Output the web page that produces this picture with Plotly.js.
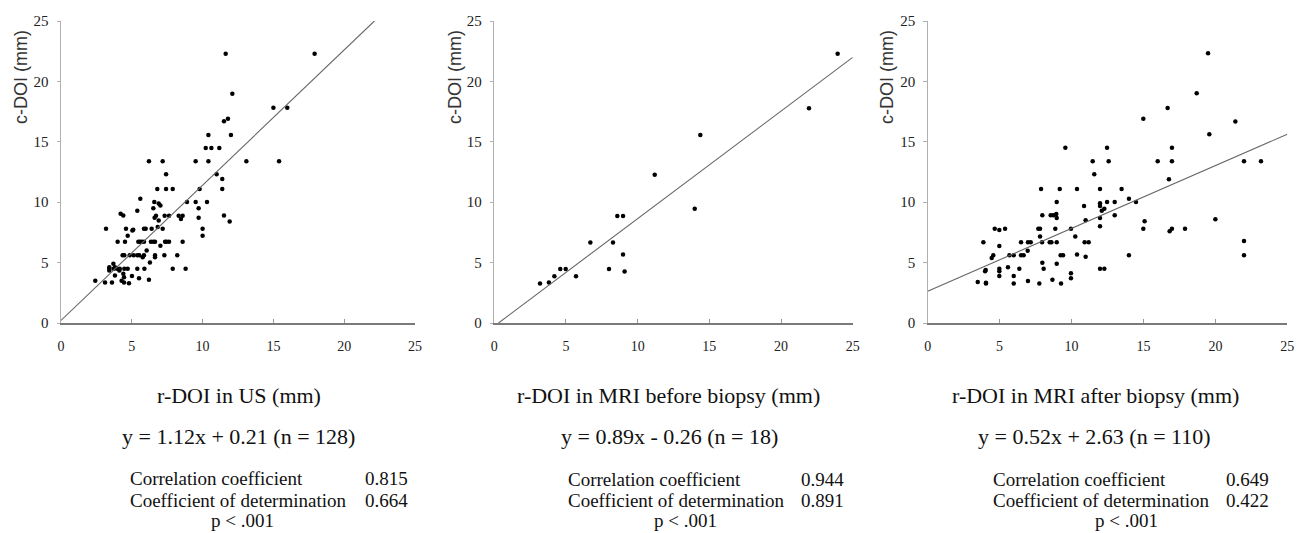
<!DOCTYPE html>
<html>
<head>
<meta charset="utf-8">
<script src="https://cdn.plot.ly/plotly-3.0.1.min.js"></script>
<style>html,body{margin:0;padding:0;background:#fff;}#chart{width:1297px;height:533px;}</style>
</head>
<body>
<div id="chart"></div>
<script>
// Panel 1: r-DOI in US
const usX = [2.42,3.18,3.11,3.41,3.41,3.6,3.70,3.72,3.81,3.96,4.0,4.12,4.15,4.21,4.28,4.4,4.35,4.47,4.47,4.4,4.45,4.45,4.52,4.59,4.71,4.71,4.8,4.85,5.01,5.04,5.1,5.13,5.39,5.39,5.39,5.51,5.53,5.46,5.58,5.6,5.70,5.77,5.86,5.86,5.86,5.89,5.98,6.05,6.21,6.21,6.28,6.35,6.40,6.52,6.52,6.59,6.61,6.64,6.64,6.64,6.71,6.8,6.83,6.9,6.9,7.02,7.02,7.18,7.18,7.30,7.32,7.35,7.42,7.42,7.46,7.63,7.63,7.89,7.89,8.21,8.31,8.47,8.59,8.59,8.80,8.9,9.51,9.51,9.72,9.72,9.79,10.0,10.0,10.22,10.31,10.41,10.41,10.62,10.99,11.18,11.39,11.39,11.51,11.51,11.63,11.79,11.91,12.0,12.1,13.09,15.0,15.4,15.98,17.91,3.41,3.81];
const usY = [3.5,7.8,3.35,4.62,4.34,3.35,4.9,4.5,3.93,4.5,6.72,4.34,4.5,9.04,3.5,8.9,5.61,5.61,4.5,4.07,3.79,3.35,6.72,7.8,4.5,7.22,3.29,5.61,3.9,7.66,7.72,5.61,9.29,4.5,5.61,3.71,5.61,6.72,6.72,10.29,6.72,5.45,5.61,6.72,7.8,4.5,7.8,6.0,3.57,13.38,5.0,6.72,7.8,9.49,6.72,10.01,8.71,5.61,5.45,6.72,8.88,11.09,7.94,8.49,9.9,9.73,6.39,13.38,7.8,5.61,8.88,6.72,12.31,11.09,6.72,8.88,6.72,11.09,4.5,5.61,8.88,8.6,8.88,6.72,4.5,10.01,13.38,10.01,9.49,8.71,11.09,7.8,7.22,14.49,10.01,15.57,13.38,14.49,12.31,14.49,11.92,11.09,8.9,16.7,22.29,16.9,8.41,15.57,18.97,13.38,17.81,13.38,17.81,22.29,4.5,4.62];

// Panel 2: r-DOI in MRI before biopsy
const preX = [3.19,3.81,4.19,4.60,4.98,5.70,6.70,8.0,8.28,8.58,8.98,8.98,9.09,11.19,13.98,14.37,21.95,23.95];
const preY = [3.27,3.36,3.88,4.48,4.48,3.88,6.66,4.48,6.66,8.86,8.86,5.67,4.26,12.27,9.46,15.57,17.77,22.28];

// Panel 3: r-DOI in MRI after biopsy
const postX = [3.48,3.87,3.99,4.03,4.05,4.05,4.45,4.56,4.66,4.98,4.98,4.98,4.98,4.98,5.38,5.58,5.68,5.98,5.98,5.98,6.37,6.49,6.49,6.67,6.97,6.95,6.97,7.16,7.69,7.81,7.76,7.81,7.88,7.95,7.97,7.97,8.06,8.48,8.55,8.73,8.60,8.67,8.87,8.94,8.97,8.97,8.97,8.97,9.18,9.24,9.41,9.27,9.57,9.96,9.96,9.96,10.26,10.38,10.38,10.87,10.91,10.98,10.98,11.19,11.47,11.58,11.98,11.98,11.98,11.98,11.98,11.98,12.1,12.28,12.28,12.47,12.47,12.58,13.0,13.0,13.48,13.99,13.99,14.48,14.99,14.99,15.08,15.99,16.68,16.77,16.82,16.98,16.98,16.98,17.89,18.70,19.49,19.58,20.0,21.39,21.99,21.99,21.99,23.17];
const postY = [3.39,6.68,4.28,4.39,3.34,3.26,5.38,5.60,7.81,7.70,6.37,4.50,4.28,3.89,7.81,4.61,5.60,5.60,3.89,3.28,4.50,6.68,5.60,5.60,6.68,5.99,3.48,6.68,7.81,7.81,3.28,7.17,11.09,6.68,8.91,4.99,4.50,6.68,8.91,8.91,6.68,3.59,7.81,9.02,8.69,10.02,6.68,4.91,11.09,5.60,5.60,3.28,14.51,7.81,4.11,3.70,7.17,5.68,11.09,9.69,6.68,8.50,5.49,6.68,13.38,12.31,11.09,9.91,9.69,8.69,8.0,4.50,9.30,9.46,4.50,14.51,10.02,13.38,10.02,8.91,11.09,10.29,5.60,10.02,16.91,7.81,8.42,13.38,17.80,11.89,7.59,7.81,14.51,13.38,7.81,19.01,22.32,15.62,8.58,16.69,13.38,6.79,5.60,13.38];

const xTitles = ["r-DOI in US (mm)", "r-DOI in MRI before biopsy (mm)", "r-DOI in MRI after biopsy (mm)"];
const slopes = [1.12, 0.89, 0.52];
const intercepts = [0.21, -0.26, 2.63];
const nCounts = [128, 18, 110];
const corr = ["0.815", "0.944", "0.649"];
const determ = ["0.664", "0.891", "0.422"];
const pText = ["p < .001", "p < .001", "p < .001"];
const yTitle = "c-DOI (mm)";
const tickVals = [0, 5, 10, 15, 20, 25];

const W = 1297, H = 533;
const px = v => v / W;
const py = v => 1 - v / H;

const xs = [usX, preX, postX];
const ys = [usY, preY, postY];
const axisL = [61, 494.3, 927.7];
const axisR = [415, 852.7, 1287.3];
const plotTop = 21, plotBot = 323;
const centers = [238.5, 668, 1095];
const eqCenters = [238.5, 669.5, 1094];
const tableLeft = [128, 566, 991];
const valueLeft = [363, 799, 1224];
const rowY = [[395, 436, 478, 500, 520], [395, 436, 479, 500, 520], [395, 436, 479, 500, 520]];
const pCenters = [242, 686, 1126];
const yTitleX = [21, 455, 887];

const serif = "Liberation Serif";
const sans = "Liberation Sans";

const traces = [];
const layout = {
  width: W, height: H,
  margin: {l: 0, r: 0, t: 0, b: 0},
  paper_bgcolor: "#fff", plot_bgcolor: "#fff",
  showlegend: false,
  font: {family: serif},
  annotations: []
};

for (let i = 0; i < 3; i++) {
  const s = i === 0 ? "" : String(i + 1);
  const xa = "x" + s, ya = "y" + s;
  traces.push({
    type: "scatter", mode: "markers", x: xs[i], y: ys[i], xaxis: xa, yaxis: ya,
    marker: {color: "#000", size: 4.5}, hoverinfo: "skip"
  });
  const a = slopes[i], b = intercepts[i];
  const x0 = Math.max(0, -b / a), x1 = Math.min(25, (25 - b) / a);
  traces.push({
    type: "scatter", mode: "lines", x: [x0, x1], y: [a * x0 + b, a * x1 + b], xaxis: xa, yaxis: ya,
    line: {color: "#666", width: 1.1}, hoverinfo: "skip"
  });
  layout["xaxis" + s] = {
    domain: [px(axisL[i]), px(axisR[i])], anchor: ya, range: [0, 25], tickvals: tickVals,
    showgrid: false, zeroline: false, showline: true, linecolor: "#7a7a7a", linewidth: 1.6,
    ticks: "inside", ticklen: 4, tickcolor: "#999", tickwidth: 1, ticklabelstandoff: 10,
    tickfont: {family: serif, size: 14, color: "#222"}, fixedrange: true
  };
  layout["yaxis" + s] = {
    domain: [py(plotBot), py(plotTop)], anchor: xa, range: [0, 25], tickvals: tickVals,
    showgrid: false, zeroline: false, showline: true, linecolor: "#b0b0b0", linewidth: 1,
    ticks: "outside", ticklen: 3.5, tickcolor: "#b0b0b0", ticklabelstandoff: 5,
    tickfont: {family: serif, size: 15, color: "#222"}, fixedrange: true
  };
  const ann = layout.annotations;
  const r = rowY[i];
  ann.push({xref: "paper", yref: "paper", x: px(yTitleX[i]), y: py(77), text: yTitle, textangle: -90,
    showarrow: false, xanchor: "center", yanchor: "middle", font: {family: sans, size: 18, color: "#333"}});
  ann.push({xref: "paper", yref: "paper", x: px(centers[i]), y: py(r[0]), text: xTitles[i],
    showarrow: false, xanchor: "center", yanchor: "middle", font: {family: serif, size: 22, color: "#111"}});
  const sign = b < 0 ? " - " : " + ";
  ann.push({xref: "paper", yref: "paper", x: px(eqCenters[i]), y: py(r[1]),
    text: "y = " + a.toFixed(2) + "x" + sign + Math.abs(b).toFixed(2) + " (n = " + nCounts[i] + ")",
    showarrow: false, xanchor: "center", yanchor: "middle", font: {family: serif, size: 22, color: "#111"}});
  ann.push({xref: "paper", yref: "paper", x: px(tableLeft[i]), y: py(r[2]), text: "Correlation coefficient",
    showarrow: false, xanchor: "left", yanchor: "middle", font: {family: serif, size: 19, color: "#111"}});
  ann.push({xref: "paper", yref: "paper", x: px(valueLeft[i]), y: py(r[2]), text: corr[i],
    showarrow: false, xanchor: "left", yanchor: "middle", font: {family: serif, size: 19, color: "#111"}});
  ann.push({xref: "paper", yref: "paper", x: px(tableLeft[i]), y: py(r[3]), text: "Coefficient of determination",
    showarrow: false, xanchor: "left", yanchor: "middle", font: {family: serif, size: 19, color: "#111"}});
  ann.push({xref: "paper", yref: "paper", x: px(valueLeft[i]), y: py(r[3]), text: determ[i],
    showarrow: false, xanchor: "left", yanchor: "middle", font: {family: serif, size: 19, color: "#111"}});
  ann.push({xref: "paper", yref: "paper", x: px(pCenters[i]), y: py(r[4]), text: pText[i],
    showarrow: false, xanchor: "center", yanchor: "middle", font: {family: serif, size: 19, color: "#111"}});
}

Plotly.newPlot("chart", traces, layout, {staticPlot: true, displayModeBar: false});
</script>
</body>
</html>
